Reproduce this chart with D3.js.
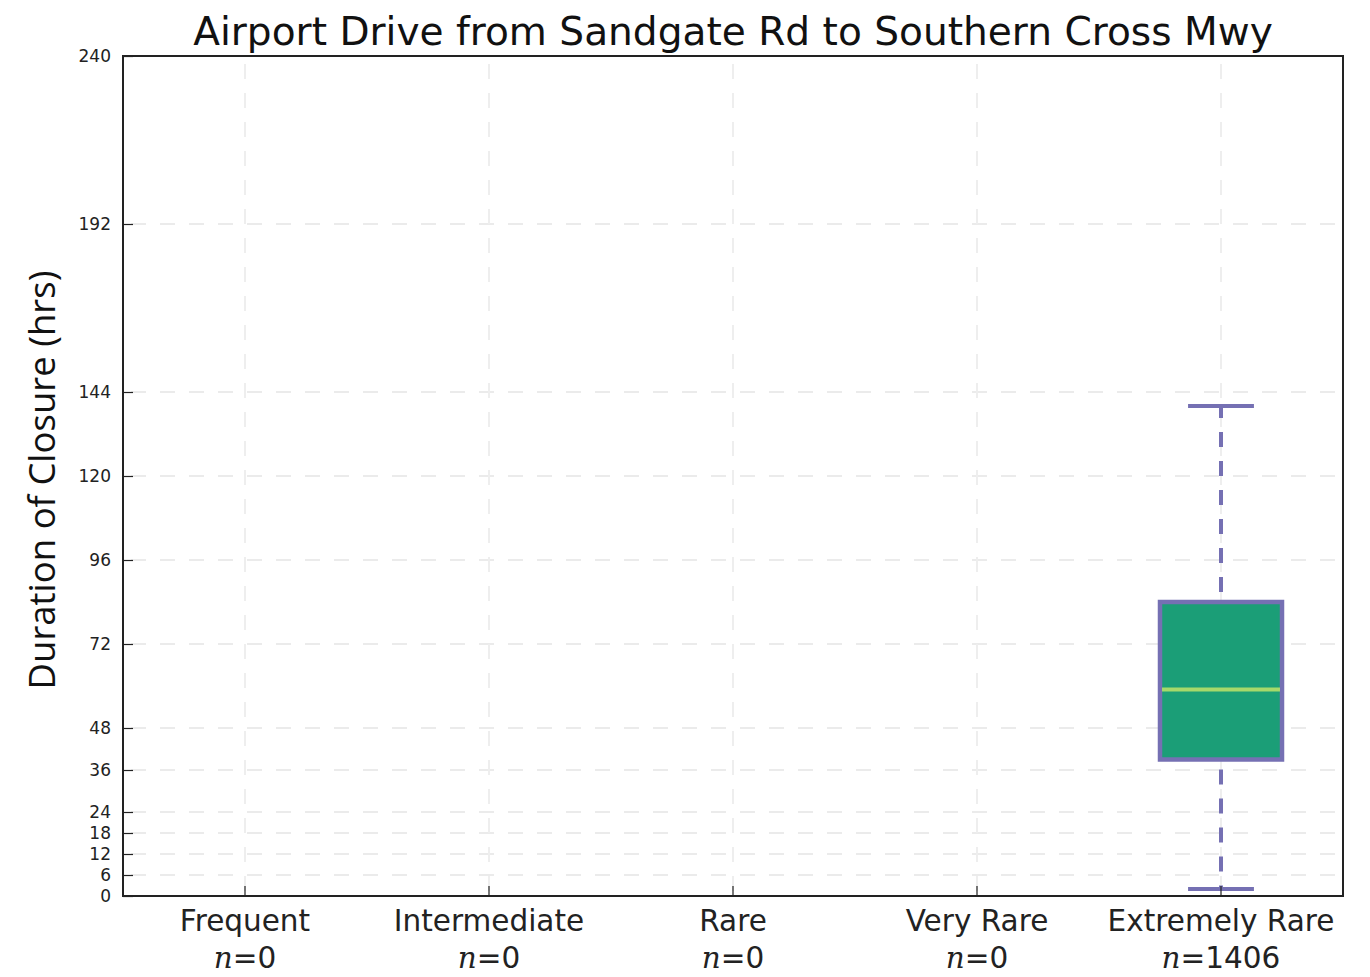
<!DOCTYPE html>
<html><head><meta charset="utf-8">
<script src="https://cdn.jsdelivr.net/npm/d3@7"></script>
<style>body{margin:0;background:#fff;} svg{display:block;}</style>
</head><body>
<script>
const categories = ["Frequent","Intermediate","Rare","Very Rare","Extremely Rare"];
const counts = [0,0,0,0,1406];
// box stats: [whiskerLow, q1, median, q3, whiskerHigh] (null = no data)
const boxStats = [null,null,null,null,[2,39,59,84,140]];
const yTicks = [0,6,12,18,24,36,48,72,96,120,144,192,240];
const title = "Airport Drive from Sandgate Rd to Southern Cross Mwy";
const yLabel = "Duration of Closure (hrs)";

const W=1370,H=977;
const m={l:123,r:1343,t:56,b:896};
const svg=d3.select("body").append("svg").attr("width",W).attr("height",H);
const x=d3.scaleBand().domain(categories).range([m.l,m.r]);
const y=d3.scaleLinear().domain([0,240]).range([m.b,m.t]);
const cx=c=>x(c)+x.bandwidth()/2;

// grid
const g=svg.append("g");
g.selectAll(".hg").data(yTicks.filter(t=>t>0&&t<240)).join("line")
 .attr("x1",m.l).attr("x2",m.r).attr("y1",d=>y(d)).attr("y2",d=>y(d))
 .attr("stroke","#ebebeb").attr("stroke-width",2).attr("stroke-dasharray","15,14").attr("stroke-dashoffset",-8);
g.selectAll(".vg").data(categories).join("line")
 .attr("x1",cx).attr("x2",cx).attr("y1",m.t).attr("y2",m.b)
 .attr("stroke","#eeeeee").attr("stroke-width",2).attr("stroke-dasharray","15,14").attr("stroke-dashoffset",-8);

// boxes
const purple="#7570b3", fill="#1b9e77", med="#a6d96a";
categories.forEach((c,i)=>{
  const s=boxStats[i]; if(!s) return;
  const xc=cx(c), bw=x.bandwidth()*0.5, cw=x.bandwidth()*0.27;
  const bg=svg.append("g");
  bg.append("line").attr("x1",xc).attr("x2",xc).attr("y1",y(s[3])).attr("y2",y(s[4]))
    .attr("stroke",purple).attr("stroke-width",4).attr("stroke-dasharray","15,14").attr("stroke-dashoffset",-10);
  bg.append("line").attr("x1",xc).attr("x2",xc).attr("y1",y(s[1])).attr("y2",y(s[0]))
    .attr("stroke",purple).attr("stroke-width",4).attr("stroke-dasharray","15,14").attr("stroke-dashoffset",-10);
  bg.append("line").attr("x1",xc-cw/2).attr("x2",xc+cw/2).attr("y1",y(s[4])).attr("y2",y(s[4]))
    .attr("stroke",purple).attr("stroke-width",4);
  bg.append("line").attr("x1",xc-cw/2).attr("x2",xc+cw/2).attr("y1",y(s[0])).attr("y2",y(s[0]))
    .attr("stroke",purple).attr("stroke-width",4);
  bg.append("rect").attr("x",xc-bw/2).attr("width",bw).attr("y",y(s[3])).attr("height",y(s[1])-y(s[3]))
    .attr("fill",fill).attr("stroke",purple).attr("stroke-width",4.5);
  bg.append("line").attr("x1",xc-bw/2+2).attr("x2",xc+bw/2-2).attr("y1",y(s[2])).attr("y2",y(s[2]))
    .attr("stroke",med).attr("stroke-width",4);
});

// axes
const ya=svg.append("g").attr("transform",`translate(${m.l},0)`)
 .call(d3.axisLeft(y).tickValues(yTicks).tickSize(-10).tickPadding(12).tickFormat(d3.format("d")));
ya.select(".domain").remove();
ya.selectAll("text").attr("font-family","DejaVu Sans").attr("font-size",17).attr("fill","#222");
ya.selectAll("line").attr("stroke","#222").attr("stroke-width",1.2);

const xa=svg.append("g").attr("transform",`translate(0,${m.b})`)
 .call(d3.axisBottom(x).tickSize(-10).tickFormat(""));
xa.select(".domain").remove();
xa.selectAll("line").attr("stroke","#222").attr("stroke-width",1.2);

svg.append("rect").attr("x",m.l).attr("y",m.t).attr("width",m.r-m.l).attr("height",m.b-m.t)
 .attr("fill","none").attr("stroke","#222").attr("stroke-width",2);

// x labels
categories.forEach((c,i)=>{
  svg.append("text").attr("x",cx(c)).attr("y",931).attr("text-anchor","middle")
   .attr("font-family","DejaVu Sans").attr("font-size",29.5).attr("fill","#222").text(c);
  const t=svg.append("text").attr("x",cx(c)).attr("y",968).attr("text-anchor","middle")
   .attr("font-family","DejaVu Sans").attr("font-size",29.5).attr("fill","#222");
  t.append("tspan").attr("font-family","DejaVu Serif").attr("font-style","italic").text("n");
  t.append("tspan").text("="+counts[i]);
});

svg.append("text").attr("x",(m.l+m.r)/2).attr("y",45).attr("text-anchor","middle")
 .attr("font-family","DejaVu Sans").attr("font-size",39.1).attr("fill","#111").text(title);
svg.append("text").attr("transform",`translate(55,${480}) rotate(-90)`).attr("text-anchor","middle")
 .attr("font-family","Open Sans").attr("font-size",36.5).attr("fill","#111").text(yLabel);
</script>
</body></html>
